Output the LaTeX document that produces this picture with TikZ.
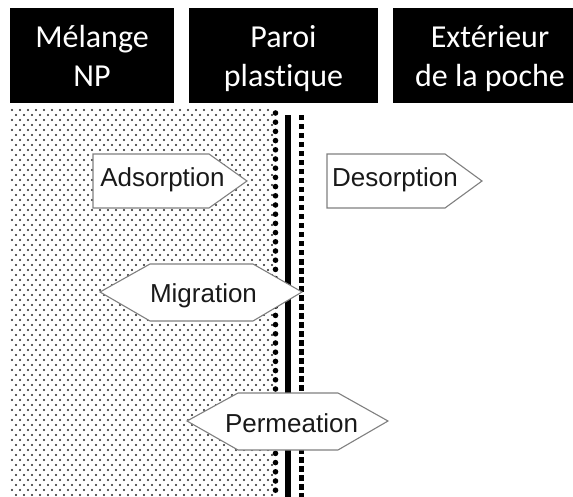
\documentclass[tikz,border=0pt]{standalone}
\usepackage{fontspec}
\setmainfont{Liberation Sans}
\newfontfamily\hdrfont[Ligatures=NoCommon]{Carlito}
\newcommand\topstrut{\rule{0pt}{27.3pt}}
\newcommand\botstrut{\rule[-3.3pt]{0pt}{3.3pt}}
\begin{document}
\begin{tikzpicture}[x=1pt,y=-1pt,
  hdr/.style={fill=black, text=white, inner sep=0pt, align=center, minimum height=95pt,
              font=\hdrfont\fontsize{32}{39}\selectfont},
  proc/.style={draw=black!50, fill=white, line width=1.1pt, line join=miter},
  lbl/.style={inner sep=0pt, anchor=base, text=black!90, font=\fontsize{26}{30}\selectfont},
  stip/.style={fill=black!85},
]
\useasboundingbox (0,0) rectangle (573,497);
\fill[white] (0,0) rectangle (573,497);

% header boxes
\node[hdr, minimum width=164pt] (h1) at (92,55.5) {\topstrut Mélange\\NP\botstrut};
\node[hdr, minimum width=189pt] (h2) at (283.5,55.5) {\topstrut Paroi\\plastique\botstrut};
\node[hdr, minimum width=194pt] (h3) at (490,55.5) {\topstrut Extérieur\\de la poche\botstrut};

% stippled mixture
\foreach \i in {0,...,77} {
  \pgfmathsetmacro\yy{110+5*\i}
  \pgfmathsetmacro\off{4*mod(\i,2)}
  \foreach \j in {0,...,32} {
    \fill[stip] (12+\off+8*\j, \yy) circle (1.2pt);
  }
}
% large dots at the interface
\foreach \k in {0,...,41} {
  \fill (275.5, 113+9.2*\k) circle (2.8pt);
}
% plastic wall
\fill (285,115) rectangle (291,497);
\foreach \k in {0,...,42} {
  \fill (298.5,115+9*\k) rectangle ++(5,5.5);
}

% process shapes
\draw[proc] (93,154) -- (209,154) -- (247,181) -- (209,208) -- (93,208) -- cycle;
\node[lbl] (ads) at (162.5,187) {Adsorption};

\draw[proc] (327,154) -- (445,154) -- (482,181) -- (445,208) -- (327,208) -- cycle;
\node[lbl] (des) at (395,187) {Desorption};

\draw[proc] (100,292) -- (150,264) -- (253,264) -- (302,292) -- (253,321) -- (150,321) -- cycle;
\node[lbl] (mig) at (203.5,302) {Migration};

\draw[proc] (187,421) -- (238,393) -- (338,393) -- (388,421) -- (338,450) -- (238,450) -- cycle;
\node[lbl] (perm) at (291.5,432) {Permeation};
\end{tikzpicture}
\end{document}
